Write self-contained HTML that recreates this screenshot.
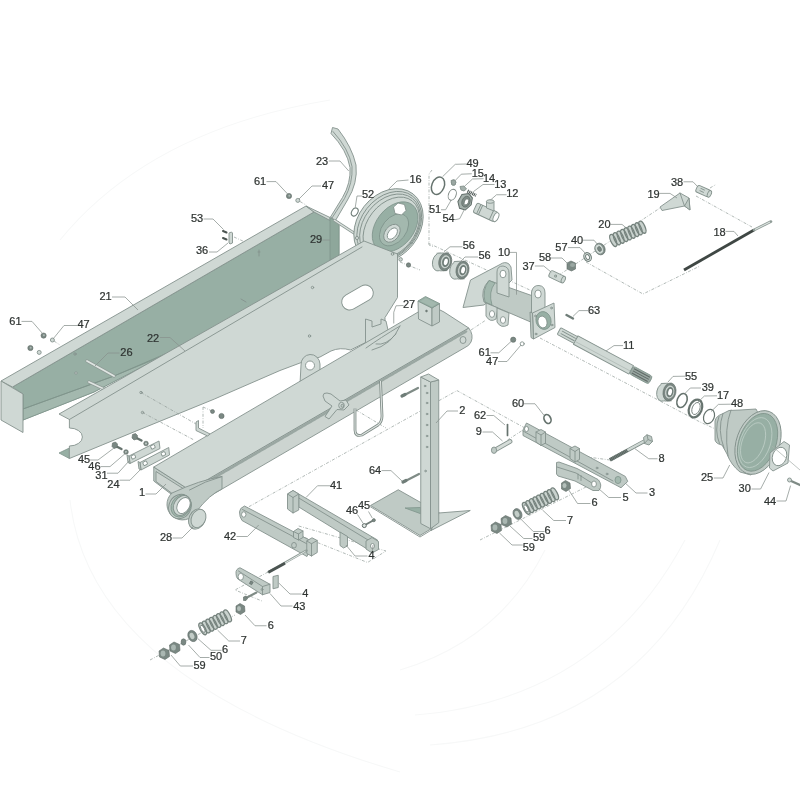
<!DOCTYPE html>
<html><head><meta charset="utf-8">
<style>
html,body{margin:0;padding:0;background:#fff;}
body{width:800px;height:800px;overflow:hidden;}
svg{display:block;filter:blur(.55px);}
.l{fill:#cfd8d4;stroke:#84928d;stroke-width:.9;stroke-linejoin:round;}
.m{fill:#bfcac5;stroke:#84928d;stroke-width:.9;stroke-linejoin:round;}
.d{fill:#97afa4;stroke:#7f948b;stroke-width:.8;stroke-linejoin:round;}
.d2{fill:#a3b8ae;stroke:#7f948b;stroke-width:.8;stroke-linejoin:round;}
.k{fill:#7a8883;stroke:#5f6b67;stroke-width:.6;}
.w{fill:#fff;stroke:#84928d;stroke-width:.9;}
.n{fill:none;stroke:#84928d;stroke-width:.9;stroke-linecap:round;}
.ld{fill:none;stroke:#88928e;stroke-width:.75;}
.dd{fill:none;stroke:#9ea8a4;stroke-width:.8;stroke-dasharray:3 1.5 .8 1.5;}
text{font-family:"Liberation Sans",sans-serif;font-size:11px;fill:#2f3432;stroke:#2f3432;stroke-width:.22px;text-anchor:middle;}
</style></head><body>
<svg width="800" height="800" viewBox="0 0 800 800">
<rect width="800" height="800" fill="#fff"/>
<g id="wm">
<g fill="none" stroke="#f7f8f8" stroke-width="1.1">
<path d="M400,670 Q500,640 545,550"/>
<path d="M415,715 Q600,700 685,540"/>
<path d="M430,745 Q640,730 720,540"/>
<path d="M70,500 Q90,680 400,772"/>
<path d="M60,240 Q150,130 330,100"/>
</g>
</g>
<g id="dash">
<g class="dd">
<path d="M432,170 L429,174 L429,245 L434,247"/>
<path d="M428,243 L532,291"/>
<path d="M400,262 L420,270"/>
<path d="M553,279 L660,208"/>
<path d="M586,262 L643,294 L700,266"/>
<path d="M696,196 L752,227"/>
<path d="M710,188 L716,184.5"/>
<path d="M540,338 L700,422 L722,432"/>
<path d="M471,330 L486,320"/>
<path d="M203,407 L203,428 M203,407 L212,411"/>
<path d="M243,510 L457,390.6 L524,427.5"/>
<path d="M356,410 L386,428"/>
<path d="M298.75,526 L386,551 L367.5,562.5 L296,534"/>
<path d="M268,572 L235,590 L262,601"/>
<path d="M150,660 L235,615"/>
<path d="M480,540 L600,480"/>
<path d="M507.5,440 L523,430"/>
<path d="M580,456 L610,460"/>
<path d="M234,237 L245,242"/>
<path d="M54,341 L60,345 M300,201.5 L306,205"/>
</g>
</g>
<g id="p21">
<!-- trough 21 -->
<polygon class="d" points="12.5,387 314,212 339,222 339,262 94,392 23,420 23,394"/>
<polygon class="d2" stroke="none" points="23,409 114,376 165,355 94,392 23,420"/>
<path class="n" style="stroke:#7f948b" d="M23,409 L114,376 L165,354"/>
<polygon class="l" points="1,381 306,206 314,212 12.5,387"/>
<polygon class="l" points="306,206 330,217.5 330,220.5 314,212"/>
<polygon class="l" points="1,381 23,394 23,432.5 1,420"/>
<polygon class="d" style="fill:#8ea79b" points="330,217.5 339,222.5 339,256 330,260"/>
<!-- rods 26 -->
<path d="M87,361 L114,376" stroke="#8f9c97" stroke-width="3.2" stroke-linecap="round"/>
<path d="M87,361 L114,376" stroke="#dfe5e2" stroke-width="1.8" stroke-linecap="round"/>
<path d="M89,382 L104,389" stroke="#8f9c97" stroke-width="3.2" stroke-linecap="round"/>
<path d="M89,382 L104,389" stroke="#dfe5e2" stroke-width="1.8" stroke-linecap="round"/>
<circle cx="75" cy="354" r="1.2" class="n"/><circle cx="76" cy="373" r="1.2" class="l"/>
<path class="n" d="M259,250 v6 M258,252 l2,0"/>
<path class="n" d="M241,299 l5,3"/>
</g>
<g id="p16">
<!-- belt 23 -->
<path class="l" d="M332.5,127.5 L338,129 Q352,147 356,165 Q358,183 347.5,200 L335.5,220.5 L330.5,217 L342.5,197.5 Q351,183 350,167.5 Q347,150 331,133.5 Z"/>
<path class="n" d="M333,131.5 Q349,149 352,166.5 Q353,183 344.5,198.5 L332,218"/>
<!-- rod to pulley -->
<path d="M334,220 L357,235" stroke="#8f9c97" stroke-width="2.8"/>
<path d="M334,220 L357,235" stroke="#dde3e0" stroke-width="1.3"/>
<!-- ring 52 -->
<ellipse class="n" cx="354.75" cy="212" rx="3" ry="4.3" transform="rotate(30 354.75 212)" style="stroke:#6f7d78;stroke-width:1.1"/>
<!-- pulley 16 -->
<g transform="translate(388.5,225.5) rotate(38)">
<ellipse class="l" cx="0" cy="0" rx="31" ry="40"/>
<ellipse class="n" cx="1" cy="0" rx="28.5" ry="38"/>
<ellipse class="n" cx="2" cy="0" rx="26.5" ry="36"/>
<ellipse class="n" cx="3.5" cy="0" rx="24" ry="34"/>
<ellipse class="d" cx="6" cy="-3" rx="19" ry="28"/>
<ellipse class="d2" cx="7" cy="0" rx="12" ry="18"/>
<ellipse class="l" cx="7.5" cy="4" rx="7" ry="10"/>
<ellipse class="w" cx="8" cy="4" rx="4" ry="6.5"/>
</g>
<polygon class="w" points="393.5,207 398,203 404.5,204.5 406,210.5 401.5,215 395,213.5"/>
<circle class="l" cx="400.6" cy="259.4" r="1.8"/>
<circle class="l" cx="357" cy="238" r="1.6"/>
</g>
<g id="p22">
<!-- side plate 22 -->
<polygon class="d" points="59,453 69.4,448 69.4,458.5"/>
<path class="l" d="M59,414 L364,241 L397.5,254 L397.5,297.5 L385,317.5 L385,330 L365.5,342.5 L350.5,350 Q340,347 331,351 L320,357 L300,363 L280,370.5 L214.5,399 L140,429.4 L69.4,458.5 L69.4,446 A13,9 0 0 0 69.4,428 L69.4,419.5 Z"/>
<path class="n" d="M69.4,419.5 L362,247"/>
<!-- slot -->
<path class="w" d="M-9,-8 L9,-8 A8,8 0 0 1 9,8 L-9,8 A8,8 0 0 1 -9,-8 Z" transform="translate(357.5,297.5) rotate(-30)"/>
<circle class="n" cx="312.5" cy="287.5" r="1.2"/><circle class="n" cx="309.5" cy="336" r="1.2"/><circle class="n" cx="392.5" cy="254" r="1.3"/>
<circle class="n" cx="141" cy="392.5" r="1.2"/><circle class="n" cx="142.5" cy="412.5" r="1.2"/>
<!-- lug -->
<path class="l" d="M300,384 L301,365 A9.5,10 0 0 1 320,364 L320,374 Z"/>
<circle class="w" cx="310" cy="365.5" r="4.5"/>
<!-- bracket at right -->
<path class="l" d="M365.5,319 L372,321 L372,327 L381,324 L381,319 L386,321 L388,330 Q380,345 370,346 L365.5,342.5 Z"/>
</g>
<g id="p1">
<!-- beam 1 -->
<polygon class="m" points="153.75,467 189.5,490 189.5,508 153.75,481"/>
<polygon class="l" style="fill:#ccd4d0" points="156,471.5 187,491 187,504.5 156,481.5"/>
<path class="m" style="fill:#ccd4d0" d="M189.5,490 L468.75,328 Q474,335 471,342 Q469,346 465,347.5 L189.5,508 Z"/>
<path class="l" d="M153.75,467 L425,308 Q436,307 444,312 L468.75,328 L189.5,490 Z"/>
<path class="n" d="M193,490 L466,331.5" style="stroke-dasharray:1.2 1;stroke-width:2.6;stroke:#9aa7a2"/>
<ellipse class="l" cx="463" cy="340" rx="3" ry="3.5"/>
<!-- spring clip 27 on top -->
<path class="n" d="M366,348 Q380,338 400,326 M372,350 Q392,345 400,326 M376,344 Q386,346 396,334"/>
<!-- lever pin -->
<g transform="translate(0,4)">
<path class="l" d="M323,392 Q323,388.5 327,389 L331,390 L340,397 L346,396 L349,401 L344,406 L337,405.5 L329,415 L325,412.5 L332,402 L325,397 Z"/>
<ellipse class="l" cx="341.5" cy="401.5" rx="2.8" ry="3.2"/>
<ellipse class="m" cx="342.3" cy="401.8" rx="1.3" ry="1.6"/>
</g>
<!-- U handle -->
<path d="M355,408.5 L355,430 Q355,437 362,435 L378,425 Q382,422 382,416 L380.5,381" fill="none" stroke="#7f8c87" stroke-width="2.8"/>
<path d="M355,408.5 L355,430 Q355,437 362,435 L378,425 Q382,422 382,416 L380.5,381" fill="none" stroke="#dde3e0" stroke-width="1.1"/>
<!-- end eye -->
<path class="m" d="M222,476.5 L222,489 Q210,494 196,512 A15.5,15.5 0 1 1 172,493 Q200,480 222,476.5 Z"/>
<path class="n" d="M189.5,490 Q205,481 222,476.5"/>
<ellipse class="m" cx="180" cy="506.5" rx="11" ry="12.5" transform="rotate(30 180 506.5)"/>
<ellipse class="d2" cx="181" cy="506" rx="9.5" ry="11.5" transform="rotate(30 181 506)"/>
<ellipse class="l" cx="182" cy="505.5" rx="8" ry="10.5" transform="rotate(30 182 505.5)"/>
<ellipse class="w" cx="183.5" cy="505.5" rx="6" ry="8.5" transform="rotate(30 183.5 505.5)"/>
<!-- cap 28 -->
<ellipse class="m" cx="197" cy="519" rx="8" ry="10.5" transform="rotate(25 197 519)"/>
<ellipse class="l" cx="198.5" cy="518.5" rx="7" ry="9.5" transform="rotate(25 198.5 518.5)"/>
<!-- box on top -->
<polygon class="l" points="418,301 432,308 432,326 418.5,319"/>
<polygon class="m" points="432,308 439.5,303.5 439.5,322 432,326"/>
<polygon class="d" points="418,301 425.5,296.5 439.5,303.5 432,308"/>
<polygon class="d2" stroke="none" points="420.5,301.2 425.7,298 437,303.6 432,306.7" style="stroke:none"/>
<circle class="k" cx="426.5" cy="311" r=".9"/>
</g>
<g id="p10">
<!-- bearings 56 -->
<defs><g id="brg">
<ellipse class="l" cx="-6.5" cy="0.3" rx="6.2" ry="9" transform="rotate(12 -6.5 0.3)"/>
<path d="M-8.3,-8.5 L-1.8,-8.8 L1.8,8.8 L-4.7,9.1 Z" fill="#cfd8d4"/>
<path class="n" d="M-8.3,-8.5 L-1.8,-8.8 M1.8,8.8 L-4.7,9.1"/>
<ellipse cx="0" cy="0" rx="6.4" ry="9.1" transform="rotate(12)" fill="#7c8a85" stroke="#5d6965" stroke-width=".6"/>
<ellipse cx="0.2" cy="0" rx="5" ry="7" transform="rotate(12)" fill="#c9d2ce" stroke="#5d6965" stroke-width=".5"/>
<ellipse cx="0.4" cy="0" rx="3.5" ry="5.2" transform="rotate(12)" fill="#6f7d78"/>
<ellipse cx="0.6" cy="0" rx="1.9" ry="3.3" transform="rotate(12)" fill="#fff"/>
</g></defs>
<use href="#brg" x="445.25" y="261.75"/>
<use href="#brg" x="462.5" y="270"/>
<!-- part 10 bracket -->
<path class="l" d="M470.5,280 L500,264.5 Q505,261 509,264 L511,267 L512,280 L500,292 L484,305 L463,307.5 Z"/>
<!-- tube -->
<path class="m" d="M489,280.5 L533,296 L533,323 L484,302 Q480,290 489,280.5 Z"/>
<path class="d2" d="M489,280.5 Q482,290 485,302 L492,305 Q488,292 495,283 Z"/>
<!-- upright lug left -->
<path class="l" d="M497,293 L497,272 Q497,266 503,266 Q509,267 509,273 L509,297 Z"/>
<ellipse class="w" cx="503" cy="274" rx="3" ry="3.8"/>
<!-- lower lugs -->
<path class="l" d="M486,303 L486,316 Q490,323 496,319 L498,308 Z"/>
<ellipse class="w" cx="492" cy="314" rx="2.6" ry="3.4"/>
<path class="l" d="M497,308 L497,322 Q501,329 508,325 L509,313 Z"/>
<ellipse class="w" cx="503" cy="320" rx="2.6" ry="3.4"/>
<!-- right upright lug -->
<path class="l" d="M531.5,318 L531.5,292 Q533,285 539,285.5 Q545,286 545,293 L545,310 Z"/>
<ellipse class="w" cx="538" cy="294" rx="3.2" ry="4"/>
<!-- flange plate -->
<polygon class="l" points="532.5,313 554,303 555,327.5 533.5,339"/>
<polygon class="m" points="532.5,313 533.5,339 531,337.5 530,312"/>
<ellipse class="d" cx="543.5" cy="320.5" rx="7.5" ry="9" transform="rotate(-15 543.5 320.5)"/>
<ellipse class="w" cx="542.5" cy="322" rx="4.5" ry="6" transform="rotate(-15 542.5 322)"/>
<circle class="n" cx="535.5" cy="316" r=".9"/><circle class="n" cx="551.5" cy="308" r=".9"/><circle class="n" cx="552" cy="325" r=".9"/><circle class="n" cx="536" cy="334" r=".9"/>
<!-- nut 61 / washer 47 -->
<circle class="k" cx="513.2" cy="339.7" r="2.6"/><circle class="n" cx="522.2" cy="343.8" r="2"/>
</g>
<g id="right">
<!-- 37 cylinder -->
<g transform="translate(556.5,276.5) rotate(25)">
<rect class="l" x="-7.5" y="-3.6" width="15" height="7.2" rx="2"/>
<ellipse class="l" cx="7.5" cy="0" rx="1.8" ry="3.6"/>
<circle class="n" cx="-1" cy="0" r="1"/>
</g>
<!-- 58 nut -->
<g transform="translate(571,266)"><path class="k" d="M-4,-3 L0,-5 L4.5,-3 L4.5,3 L0.5,5 L-4,3Z"/><ellipse cx="1.5" cy="-1" rx="2.5" ry="2" fill="#9aa7a2"/></g>
<!-- 57 ring -->
<ellipse class="l" cx="587.6" cy="257" rx="3.6" ry="4.6" transform="rotate(-25 587.6 257)" style="stroke:#6f7d78;stroke-width:1"/>
<ellipse class="w" cx="587.6" cy="257" rx="1.8" ry="2.6" transform="rotate(-25 587.6 257)" style="stroke:#6f7d78"/>
<!-- 40 washer -->
<ellipse class="k" cx="600" cy="249" rx="5" ry="6" transform="rotate(-25 600 249)"/>
<ellipse class="l" cx="599.3" cy="249" rx="4" ry="5.2" transform="rotate(-25 599.3 249)"/>
<ellipse class="k" cx="599.5" cy="249" rx="1.8" ry="2.5" transform="rotate(-25 599.5 249)"/>
<!-- spring 20 -->
<g transform="translate(611,241.5) rotate(-24.5)">
<rect x="0" y="-6.5" width="37" height="13" rx="3" fill="#c9d2ce" stroke="none"/>
<g fill="none" stroke="#76837e" stroke-width="1.3">
<ellipse cx="2.5" cy="0" rx="2.6" ry="6.5"/><ellipse cx="6.5" cy="0" rx="2.6" ry="6.5"/><ellipse cx="10.5" cy="0" rx="2.6" ry="6.5"/><ellipse cx="14.5" cy="0" rx="2.6" ry="6.5"/><ellipse cx="18.5" cy="0" rx="2.6" ry="6.5"/><ellipse cx="22.5" cy="0" rx="2.6" ry="6.5"/><ellipse cx="26.5" cy="0" rx="2.6" ry="6.5"/><ellipse cx="30.5" cy="0" rx="2.6" ry="6.5"/><ellipse cx="34.5" cy="0" rx="2.6" ry="6.5"/>
</g></g>
<!-- 19 wedge -->
<polygon class="l" points="660,207 680,193 689,198 690,210 684.5,206 662,210.5"/>
<polygon class="m" points="684.5,206 689,198 690,210"/>
<path class="n" d="M684.5,206 L680,193"/>
<!-- 38 cylinder -->
<g transform="translate(703,191) rotate(24)">
<rect class="l" x="-7" y="-3.6" width="14" height="7.2" rx="2"/>
<ellipse class="l" cx="7" cy="0" rx="1.8" ry="3.6"/>
<path class="n" d="M-3,-1.5 h4 M-3,1 h4"/>
</g>
<!-- rod 18 -->
<path d="M684,270 L754,230" stroke="#3f4744" stroke-width="2.8"/>
<path d="M754,230 L771,221.5" stroke="#8f9c97" stroke-width="2.6" stroke-linecap="round"/>
<path d="M755,229.5 L770,222" stroke="#dfe5e2" stroke-width="1.1"/>
<!-- 63 pin -->
<path d="M566.5,315 L573,318.5" stroke="#6f7d78" stroke-width="2.4" stroke-linecap="round"/>
<!-- shaft 11 -->
<g transform="translate(559,331) rotate(28.3)">
<rect class="l" x="0" y="-3.8" width="20" height="7.6" rx="1"/>
<path class="n" d="M3,-1.4 H18 M3,1.4 H18"/>
<rect class="l" x="19" y="-4.8" width="63" height="9.6"/>
<path class="n" d="M19,1.5 H82" style="stroke:#b4beba"/>
<rect class="d" x="82" y="-4.4" width="22" height="8.8" rx="2.5" style="fill:#9aa7a2"/>
<path d="M84,-2.4 H102 M84,0 H102 M84,2.4 H102" stroke="#5f6b67" stroke-width="1"/>
</g>
<!-- bearing 55 -->
<use href="#brg" x="669.5" y="392"/>
<!-- rings 39 17 48 -->
<g fill="none" stroke="#66736e">
<ellipse cx="682" cy="400.5" rx="4.8" ry="7.3" transform="rotate(22 682 400.5)" stroke-width="1.6"/>
<ellipse cx="695.5" cy="408.5" rx="6.3" ry="9.3" transform="rotate(22 695.5 408.5)" stroke-width="2.2"/>
<ellipse cx="696" cy="408.5" rx="3.8" ry="6.3" transform="rotate(22 696 408.5)" stroke-width=".8"/>
<ellipse cx="709" cy="416.5" rx="5.2" ry="7.4" transform="rotate(22 709 416.5)" stroke-width="1.2"/>
</g>
<!-- bell housing 25 -->
<path class="m" d="M715,421 Q716,416 722,414 L729,410.5 L740,410 L756,409 L772,440 L751,475 L740,472 Q731,465 727,454 L722,445 Q716,444 715,440 Z"/>
<path class="n" d="M719,416.5 Q714,430 719.5,443.5 M723,413.5 Q717,430 724,448 M731,410 Q724,428 728,456"/>
<g transform="translate(758,442.5) rotate(20)">
<ellipse class="m" cx="0" cy="0" rx="21.5" ry="33"/>
<ellipse class="d" cx="-0.5" cy="0" rx="18.5" ry="30"/>
<ellipse class="n" cx="-2.5" cy="1" rx="15" ry="26" style="stroke:#b9cac2"/>
<ellipse class="n" cx="-4.5" cy="2" rx="11" ry="21" style="stroke:#b9cac2"/>
</g>
<!-- gasket 30 -->
<path class="l" d="M770,453 L784,441.5 L789.5,445 L788,463 L773,471 L769.5,468 Z"/>
<ellipse class="w" cx="779.5" cy="456.5" rx="7" ry="9.5" transform="rotate(20 779.5 456.5)"/>
<path class="ld" d="M772,446 L800,470" style="stroke:#a9b1ae"/>
<!-- 44 screw -->
<path d="M790,480.5 L800,485" stroke="#7f8b86" stroke-width="2.4" stroke-linecap="round"/>
<circle class="l" cx="789.5" cy="480" r="2"/>
</g>
<g id="low">
<!-- stand 2: base plate -->
<polygon class="m" points="370.5,505.5 398.25,489.75 448.5,518.25 420,535.5"/>
<path class="n" d="M370.5,506.8 L420,537 L448.5,519.6"/>
<polygon class="d" points="405,508 420.75,507.5 420.75,513.75"/>
<polygon class="l" points="438.75,513 470.25,510.5 431,530.5"/>
<!-- post -->
<polygon class="l" points="420.75,377 430.5,382 430.5,528.75 420.75,523.5"/>
<polygon class="m" points="430.5,382 438.75,380 438.75,522.75 430.5,528.75"/>
<polygon class="l" points="420.75,377 428.5,374 438.75,380 430.5,382"/>
<g class="n"><circle cx="425" cy="386" r=".8"/><circle cx="427" cy="393" r=".8"/><circle cx="427" cy="403" r=".8"/><circle cx="427" cy="414" r=".8"/><circle cx="427" cy="425" r=".8"/><circle cx="427" cy="436" r=".8"/><circle cx="427" cy="447" r=".8"/><circle cx="425.5" cy="471" r=".8"/></g>
<!-- bolts 64 -->
<g id="b64"><path d="M403.5,395.5 L418,388" stroke="#7f8b86" stroke-width="2.2" stroke-linecap="round"/><path d="M402,396 L405,394.5" stroke="#6f7d78" stroke-width="3.2" stroke-linecap="round"/></g>
<use href="#b64" x="1" y="86"/>
<!-- arm 41 -->
<polygon class="m" points="298.75,494 377.5,540 377.5,549 372,552 298.75,507"/>
<path class="n" d="M298.75,498 L373,543"/>
<polygon class="m" points="287.5,494 293,490.5 298.75,494 298.75,510 293,513 287.5,509"/>
<polygon class="m" points="287.5,494 293,490.5 298.75,494 293,497.5"/>
<path class="n" d="M293,497.5 V513"/>
<polygon class="m" points="340,532 347.5,536.5 347.5,546 343.5,548 340,545.5"/>
<polygon class="m" points="366,541 372,537.5 378.5,541.5 378.5,549.5 372,553 366,549"/>
<ellipse class="w" cx="372.5" cy="546" rx="2" ry="2.5"/>
<!-- bolt 45/46 near 41 -->
<path d="M365,525 L374,520" stroke="#6f7b77" stroke-width="2" stroke-linecap="round"/><circle cx="364.3" cy="525.6" r="2" fill="#dfe5e2" stroke="#5f6b67" stroke-width="1"/><circle class="k" cx="373.8" cy="520.2" r="1.6"/>
<!-- arm 42 -->
<path class="m" d="M239.5,512 Q239.5,508 244.5,506 L313,542 L307,556.5 L242,520.5 Q239.5,517 239.5,512Z"/>
<path class="n" d="M242.5,509.5 L309,545"/>
<ellipse class="w" cx="243.75" cy="514.5" rx="2.2" ry="2.7"/>
<polygon class="m" points="293.5,531.5 298,528.5 303,531 303,537.5 298.5,540 293.5,537.5"/>
<path class="n" d="M293.5,531.5 L298.5,534 L303,531 M298.5,534 V540"/>
<polygon class="m" points="306.75,541 312,537.75 317.25,540.5 317.25,552.5 311.5,556 306.75,553.5"/>
<path class="n" d="M306.75,541 L311.5,543.75 L317.25,540.5 M311.5,543.75 V556"/>
<ellipse class="m" cx="294" cy="545.25" rx="2.4" ry="2.8"/>
<!-- rod from 42 -->
<path d="M268.5,572 L306.5,550.5" stroke="#8f9c97" stroke-width="2.4" stroke-linecap="round"/>
<path d="M285,563 L305.5,551.2" stroke="#dfe5e2" stroke-width="1"/>
<path d="M268.5,572.25 L285,563.25" stroke="#4b5451" stroke-width="2.8"/>
<!-- 43 plate -->
<path class="m" d="M236,573.5 Q235.5,569 240,567.75 L270,584.25 L270,592.5 L262.5,594.75 L237.75,579 Q236,577 236,573.5Z"/>
<path class="n" d="M262.5,594.75 V586.5 L238.5,571 M262.5,586.5 L270,584.25"/>
<ellipse class="w" cx="240.75" cy="576.75" rx="2.7" ry="3.4"/>
<rect class="k" x="250" y="581.3" width="2.6" height="3" transform="rotate(30 251.25 582.75)"/><circle class="n" cx="262" cy="589.5" r=".9"/>
<!-- key 4 -->
<polygon class="m" points="273,576.5 278.25,575.25 278.25,587.5 273,588.75"/>
<!-- bolt under 43 -->
<path d="M246,598 L256.5,592.5" stroke="#7f8b86" stroke-width="2" stroke-linecap="round"/><path class="k" d="M243.5,597 L246,596 L247.5,598.5 L246,600.5 L243.5,600.5Z"/>
<!-- nut 6 (lower-left) -->
<g id="n6"><path class="k" d="M236,606 L240,603.5 L244.5,606 L245,611.5 L240.5,614.5 L236,612Z"/><ellipse cx="239" cy="608.5" rx="2" ry="2.6" fill="#b3bfba"/></g>
<!-- spring 7 lower-left -->
<g id="sp7" transform="translate(200.5,630) rotate(-27.5)">
<rect x="0" y="-6.5" width="33" height="13" rx="3" fill="#c9d2ce"/>
<g fill="none" stroke="#76837e" stroke-width="1.25">
<ellipse cx="2.5" cy="0" rx="2.6" ry="6.5"/><ellipse cx="6.5" cy="0" rx="2.6" ry="6.5"/><ellipse cx="10.5" cy="0" rx="2.6" ry="6.5"/><ellipse cx="14.5" cy="0" rx="2.6" ry="6.5"/><ellipse cx="18.5" cy="0" rx="2.6" ry="6.5"/><ellipse cx="22.5" cy="0" rx="2.6" ry="6.5"/><ellipse cx="26.5" cy="0" rx="2.6" ry="6.5"/><ellipse cx="30.5" cy="0" rx="2.6" ry="6.5"/>
</g>
<ellipse cx="2.5" cy="0" rx="1.6" ry="4" fill="#fff" stroke="#6f7d78" stroke-width=".8"/>
</g>
<!-- washer 6, 50, nuts 59 (lower-left) -->
<ellipse class="k" cx="192.5" cy="636" rx="4.4" ry="5.8" transform="rotate(-25 192.5 636)"/><ellipse cx="192" cy="636" rx="2.2" ry="3.2" transform="rotate(-25 192 636)" fill="#c3cdc8"/>
<ellipse class="k" cx="183.5" cy="642" rx="2.4" ry="3.2"/>
<g id="n59"><path class="k" d="M169.5,645 L174,642 L179.5,644.5 L180,650.5 L175.5,653.5 L170,651Z"/><ellipse cx="173.5" cy="647.5" rx="2.4" ry="3" fill="#aab7b2"/></g>
<use href="#n59" x="-10.5" y="6"/>
<!-- arm 3 -->
<polygon class="m" points="523,430 526.5,423 625.3,476.4 627.75,481.4 621,487.75 523,435.5"/>
<path class="n" d="M523,431 L613,481"/>
<ellipse class="w" cx="526.5" cy="429" rx="2" ry="2.6"/>
<polygon class="m" points="536,432 541,429.5 545.5,432 545.5,443 541,445.5 536,442"/>
<path class="n" d="M541,435 V445.5 M536,432 L541,435 L545.5,432"/>
<polygon class="m" points="570,448.5 575,446 579.5,448.5 579.5,459.5 575,462 570,458.5"/>
<path class="n" d="M575,451.5 V462 M570,448.5 L575,451.5 L579.5,448.5"/>
<ellipse class="d2" cx="618" cy="480" rx="3" ry="3.6"/>
<circle class="n" cx="597" cy="468" r=".9"/><circle class="n" cx="607" cy="474" r=".9"/>
<!-- arm 5 -->
<path class="m" d="M556.5,462.5 L559,462 L577,468.5 L598,479.5 Q603,485 599,490.5 L593,490.5 L575,481 L558,476 L556.5,474 Z"/>
<path class="n" d="M557,467 L576,473 L595,485"/>
<ellipse class="w" cx="594" cy="484" rx="2.4" ry="3"/>
<path class="n" d="M578,474 v5 M581,475.5 v5"/>
<!-- bolt 8 -->
<path d="M610,459.8 L645,440.8" stroke="#7a8883" stroke-width="3.8"/>
<path d="M627,450.5 L645,440.8" stroke="#cfd8d4" stroke-width="2.2"/>
<path d="M610,459.8 L628,450" stroke="#59635f" stroke-width="3.4" stroke-dasharray="1 .7"/>
<path class="m" d="M643.5,437.5 L647,434.8 L651.5,436.5 L652.5,441.5 L649,445 L644.5,443.5Z"/>
<path class="n" d="M647,434.8 L648,439.5 L652.5,441.5 M648,439.5 L644.5,443.5"/>
<!-- ring 60 -->
<ellipse cx="547.5" cy="419" rx="3.3" ry="4.6" transform="rotate(-25 547.5 419)" fill="none" stroke="#66736e" stroke-width="1.7"/>
<!-- pin 62 -->
<path d="M507.5,424.5 V435.5" stroke="#66736e" stroke-width="1.7" stroke-linecap="round"/>
<!-- bolt 9 -->
<path d="M495,450 L510,441.5" stroke="#84928d" stroke-width="4.8" stroke-linecap="round"/><path d="M496,449.5 L510,441.5" stroke="#d5dcd8" stroke-width="3" stroke-linecap="round"/>
<ellipse class="m" cx="494" cy="450.2" rx="2.6" ry="3.2"/>
<!-- nut 6 right -->
<use href="#n6" x="325.5" y="-123"/>
<!-- spring 7 right -->
<g transform="translate(524,509.5) rotate(-27)">
<rect x="0" y="-6.5" width="37" height="13" rx="3" fill="#c9d2ce"/>
<g fill="none" stroke="#76837e" stroke-width="1.25">
<ellipse cx="2.5" cy="0" rx="2.6" ry="6.5"/><ellipse cx="6.5" cy="0" rx="2.6" ry="6.5"/><ellipse cx="10.5" cy="0" rx="2.6" ry="6.5"/><ellipse cx="14.5" cy="0" rx="2.6" ry="6.5"/><ellipse cx="18.5" cy="0" rx="2.6" ry="6.5"/><ellipse cx="22.5" cy="0" rx="2.6" ry="6.5"/><ellipse cx="26.5" cy="0" rx="2.6" ry="6.5"/><ellipse cx="30.5" cy="0" rx="2.6" ry="6.5"/><ellipse cx="34.5" cy="0" rx="2.6" ry="6.5"/>
</g>
<ellipse cx="2.5" cy="0" rx="1.6" ry="4" fill="#fff" stroke="#6f7d78" stroke-width=".8"/>
</g>
<!-- washer 6, nuts 59 right -->
<ellipse class="k" cx="517.5" cy="514" rx="4.2" ry="5.6" transform="rotate(-25 517.5 514)"/><ellipse cx="517" cy="514" rx="2.2" ry="3.2" transform="rotate(-25 517 514)" fill="#c3cdc8"/>
<use href="#n59" x="331.5" y="-126.5"/>
<use href="#n59" x="321.5" y="-120"/>
</g>
<g id="small">
<!-- nuts 61 / washers 47 (left) -->
<defs><g id="nw"><circle class="k" cx="0" cy="0" r="2.6"/><circle cx="0.3" cy="-0.3" r="1" fill="#aab7b2"/><circle class="l" cx="8.8" cy="4.4" r="2"/></g></defs>
<use href="#nw" x="43.6" y="335.6"/>
<use href="#nw" x="30.4" y="348"/>
<use href="#nw" x="289" y="196"/>
<!-- nuts near clip -->
<circle class="k" cx="212.5" cy="411.5" r="2"/><circle class="k" cx="221.5" cy="416" r="2.6"/>
<!-- clip -->
<path class="l" d="M196,422 L198.5,420.5 L198.5,428 L210,434 L207.5,436 L196,430.5 Z"/>
<!-- 53 screws & 36 plate -->
<path d="M223,231 L226.5,232.5 M223,238 L226.5,239.5" stroke="#4b5451" stroke-width="2" stroke-linecap="round"/>
<path class="l" d="M229,233 L231.5,232 L232.5,233 L232.5,243 L230,244 L229,243Z"/>
<!-- plates 31 / 24 -->
<polygon class="l" points="129,456 159,441 160,448.5 130,463.5"/>
<polygon class="m" points="129,456 130,463.5 128,462.5 127,455"/>
<rect class="w" x="131.5" y="455" width="4" height="3.6" rx="1" transform="rotate(-27 133.5 457)"/><rect class="w" x="151" y="445" width="4" height="3.6" rx="1" transform="rotate(-27 153 447)"/>
<polygon class="l" points="140,462.5 168.75,447.5 169.5,455 141,470"/>
<polygon class="m" points="140,462.5 141,470 139,469 138,461.5"/>
<rect class="w" x="143" y="461.5" width="4" height="3.6" rx="1" transform="rotate(-27 145 463)"/><rect class="w" x="161.5" y="452" width="4" height="3.6" rx="1" transform="rotate(-27 163.5 454)"/>
<!-- bolts 45 / washers 46 -->
<defs><g id="b45"><path d="M0,0 L6,3" stroke="#66736e" stroke-width="2.4" stroke-linecap="round"/><path class="k" d="M-3,-3 L0,-4 L2,-2 L1.5,1.5 L-1.5,2.5 L-3.5,0.5Z"/><circle class="k" cx="10.5" cy="6" r="2.3"/><circle cx="10.5" cy="6" r="1" fill="#c3cdc8"/></g></defs>
<use href="#b45" x="115.5" y="446"/>
<use href="#b45" x="135.5" y="437.5"/>
<!-- cluster 49,51,54,15,14,13,12 -->
<ellipse cx="438" cy="185.75" rx="6.2" ry="9" transform="rotate(22 438 185.75)" fill="none" stroke="#66736e" stroke-width="1.5"/>
<ellipse cx="452.25" cy="194.75" rx="3.8" ry="5.6" transform="rotate(22 452.25 194.75)" fill="none" stroke="#7d8783" stroke-width="1"/>
<g transform="translate(465.5,201.5) rotate(22)">
<path d="M-6,-5 L0,-8.5 L5,-6 L6.5,1 L3,8 L-3,8.5 L-7,3Z" fill="#a5b1ac" stroke="#5f6b67" stroke-width="1"/>
<ellipse cx="0.5" cy="0" rx="4" ry="5.6" fill="#7f8c87" stroke="#59635f" stroke-width=".6"/>
<ellipse cx="1" cy="0" rx="2" ry="3.2" fill="#fff" stroke="#59635f" stroke-width=".6"/>
</g>
<ellipse class="m" cx="453.5" cy="182.5" rx="2.2" ry="2.8" style="fill:#9aa7a2"/><path class="m" style="fill:#9aa7a2" d="M451,180.5 L454.5,180 L456,182 L455,185 L452,185Z"/>
<path class="m" style="fill:#a5b1ac" d="M460,186.5 L464,186 L466.5,189 L464,191 L461,190Z"/>
<path d="M467.5,191 L476,195.5" stroke="#4f5956" stroke-width="3.2" stroke-dasharray="1.1 .7"/>
<!-- 12 T fitting -->
<g transform="translate(486,212.5) rotate(25)">
<rect class="l" x="-12" y="-5.2" width="23" height="10.4" rx="2"/>
<path class="n" d="M-8,-5 V5 M-6,-5 V5 M6,-5 V5"/>
<ellipse class="w" cx="11" cy="0" rx="2.4" ry="4.8"/>
</g>
<path class="l" d="M486.5,208 L486.5,201.5 Q490,198.5 494,201.5 L494,211 Z"/>
<ellipse class="l" cx="490.2" cy="201.5" rx="3.8" ry="1.8"/>
<!-- small nut under pulley -->
<circle class="k" cx="408.5" cy="265" r="2.2"/>
</g>
<g id="dash2">
<g class="dd" style="stroke:#97a19d">
<path d="M141,392.5 L196,424"/>
<path d="M142.5,412.5 L194,440"/>
</g>
</g>
<g id="leaders">
<path class="ld" d="M21.5,321.4 L32,321.4 L43,334"/>
<path class="ld" d="M77,325.5 L64,325.5 L53,339"/>
<path class="ld" d="M112,297 L125,297 L138,310"/>
<path class="ld" d="M119.5,353 L108,353 L95,366"/>
<path class="ld" d="M160,337.5 L170,337.5 L185,351"/>
<path class="ld" d="M266.5,181.6 L276,181.6 L288,194.4"/>
<path class="ld" d="M321,186 L312,186 L299,199"/>
<path class="ld" d="M203.5,219 L213,219 L223.6,229.6"/>
<path class="ld" d="M209,252 L217,252 L228,243"/>
<path class="ld" d="M322.5,240 L330,240"/>
<path class="ld" d="M328.75,161 L340,161 L348.75,171"/>
<path class="ld" d="M362,196 L357,196 L355.3,207"/>
<path class="ld" d="M408.5,180 L397,181 L388.4,189.5"/>
<path class="ld" d="M441,209.75 L445.6,209.75 L451.25,200"/>
<path class="ld" d="M455,219.7 L459.7,218.75 L464.4,209.4"/>
<path class="ld" d="M466.5,164 L455.25,164.3 L442.5,176.75"/>
<path class="ld" d="M471.75,173.75 L461.25,174.2 L455.25,180.5"/>
<path class="ld" d="M483.5,178.7 L472.5,179 L464.25,186.5"/>
<path class="ld" d="M494.5,184.5 L483,184.5 L473.25,191.75"/>
<path class="ld" d="M506.5,194.75 L496.5,194.75 L490.5,200"/>
<path class="ld" d="M462.5,246.8 L450,246.8 L444,251.75"/>
<path class="ld" d="M478,257 L465,257 L461,261"/>
<path class="ld" d="M509.5,252.4 L516.5,252.4 L516.5,294.7"/>
<path class="ld" d="M551,258 L562,258 L568,264"/>
<path class="ld" d="M568,247.6 L580,247.6 L586,254"/>
<path class="ld" d="M583,240.2 L594,240.2 L598,245"/>
<path class="ld" d="M610.5,224.4 L622,224.4 L630,231"/>
<path class="ld" d="M534.8,266 L543.75,266 L551.25,272.2"/>
<path class="ld" d="M588,310.6 L579,310.6 L573,316.4"/>
<path class="ld" d="M683.5,181.8 L693,181.8 L698,187"/>
<path class="ld" d="M659.5,193.4 L670,193.4 L677,198"/>
<path class="ld" d="M725.5,231.4 L734,231.4 L738,236"/>
<path class="ld" d="M623,345.6 L614,345.6 L606,351"/>
<path class="ld" d="M685,376.2 L673,376.4 L668,382"/>
<path class="ld" d="M701,388 L690.3,388 L684.7,393.75"/>
<path class="ld" d="M717,395.8 L704.4,396 L697.8,402.2"/>
<path class="ld" d="M730.8,404.2 L718.4,404.4 L711,411.6"/>
<path class="ld" d="M713.75,478 L723,478 L729.7,465"/>
<path class="ld" d="M751.5,489 L760.6,489 L769,472.5"/>
<path class="ld" d="M776.5,501 L786,501 L790.6,485.6"/>
<path class="ld" d="M657.5,458.75 L648.75,458.75 L635,448.75"/>
<path class="ld" d="M524,403.75 L535,403.75 L543.75,415"/>
<path class="ld" d="M486.5,415.5 L493.75,415.5 L505,425"/>
<path class="ld" d="M482.5,432 L492.5,432 L502.5,441"/>
<path class="ld" d="M647.5,493 L636,493 L626,483.75"/>
<path class="ld" d="M621,497.5 L608.75,497.5 L598.75,488.75"/>
<path class="ld" d="M590.5,503.5 L577.5,503.5 L568.75,490"/>
<path class="ld" d="M566,520.5 L553.75,520.5 L542.5,510"/>
<path class="ld" d="M544.5,531.5 L533.25,531.5 L520.5,518.75"/>
<path class="ld" d="M532.5,538.5 L523.75,538.5 L510,526"/>
<path class="ld" d="M522.75,545 L512,545 L499.5,533"/>
<path class="ld" d="M458,411 L447,411 L436,423"/>
<path class="ld" d="M381.5,470.6 L391,470.6 L402,481"/>
<path class="ld" d="M330,485.75 L317.5,485.75 L306,497.5"/>
<path class="ld" d="M236.5,536.5 L247.5,536.5 L258.75,525"/>
<path class="ld" d="M357.5,514.5 L363.25,523.5"/>
<path class="ld" d="M368.5,511.5 L372.25,518"/>
<path class="ld" d="M367.5,556 L355,556 L346,545"/>
<path class="ld" d="M301.5,594 L290,594 L278.75,583"/>
<path class="ld" d="M292.5,606 L281,606 L270,593.5"/>
<path class="ld" d="M266.5,625.75 L255,625.75 L245,615"/>
<path class="ld" d="M240,641 L228.75,641 L217.5,630"/>
<path class="ld" d="M221.5,650.3 L211,650.3 L198,638.75"/>
<path class="ld" d="M209.5,657.5 L200,657.5 L188.5,645"/>
<path class="ld" d="M193,666 L180.3,666 L171,655"/>
<path class="ld" d="M90,460 L98,460 L114,448"/>
<path class="ld" d="M100.5,466.6 L110,466.6 L127,452"/>
<path class="ld" d="M107,473.2 L118,473.2 L129,461"/>
<path class="ld" d="M119.5,480.2 L130,480.2 L141,469"/>
<path class="ld" d="M145.5,494 L156,494 L166,484"/>
<path class="ld" d="M172.5,538 L182,538 L193,527"/>
<path class="ld" d="M403.5,305.5 L396,305.8 L393.75,312.25 L393.75,323.5"/>
<path class="ld" d="M490.5,352.8 L498.75,352.8 L512,340.6"/>
<path class="ld" d="M498,361.5 L507,361.5 L521,345"/>
<path class="ld" d="M372.25,551.5 L373,545"/>
</g>
<g id="labels">
<text x="15.4" y="324.5">61</text>
<text x="83.6" y="328.3">47</text>
<text x="105.6" y="300.3">21</text>
<text x="126.4" y="355.5">26</text>
<text x="153" y="341.9">22</text>
<text x="260" y="184.9">61</text>
<text x="328" y="188.9">47</text>
<text x="197" y="221.9">53</text>
<text x="202" y="254.3">36</text>
<text x="316" y="242.9">29</text>
<text x="322" y="164.9">23</text>
<text x="368" y="197.9">52</text>
<text x="415.6" y="183.3">16</text>
<text x="435" y="212.9">51</text>
<text x="448.5" y="221.9">54</text>
<text x="472.5" y="167.2">49</text>
<text x="477.75" y="176.9">15</text>
<text x="489" y="182.2">14</text>
<text x="500.25" y="188.2">13</text>
<text x="512.25" y="197.2">12</text>
<text x="468.75" y="248.9">56</text>
<text x="484.5" y="259.4">56</text>
<text x="504" y="256.4">10</text>
<text x="545" y="260.9">58</text>
<text x="561.4" y="251.3">57</text>
<text x="577" y="243.9">40</text>
<text x="604.4" y="227.9">20</text>
<text x="528.5" y="269.5">37</text>
<text x="594" y="313.9">63</text>
<text x="677" y="185.5">38</text>
<text x="653.6" y="197.5">19</text>
<text x="719.6" y="235.5">18</text>
<text x="628.6" y="348.9">11</text>
<text x="691" y="379.5">55</text>
<text x="707.75" y="390.9">39</text>
<text x="723" y="398.6">17</text>
<text x="737" y="406.6">48</text>
<text x="707" y="480.9">25</text>
<text x="744.7" y="492.3">30</text>
<text x="770" y="504.5">44</text>
<text x="661.6" y="462.3">8</text>
<text x="518" y="406.9">60</text>
<text x="480" y="418.9">62</text>
<text x="478.75" y="434.9">9</text>
<text x="652" y="496.4">3</text>
<text x="625.5" y="500.9">5</text>
<text x="594.5" y="506.4">6</text>
<text x="570" y="523.9">7</text>
<text x="547.5" y="533.9">6</text>
<text x="539" y="541.4">59</text>
<text x="528.75" y="550.9">59</text>
<text x="462.4" y="413.9">2</text>
<text x="375" y="473.9">64</text>
<text x="336" y="488.9">41</text>
<text x="230" y="539.9">42</text>
<text x="352" y="513.6">46</text>
<text x="364" y="509.1">45</text>
<text x="371.5" y="559.4">4</text>
<text x="305.25" y="597.1">4</text>
<text x="299.25" y="609.6">43</text>
<text x="270.75" y="628.9">6</text>
<text x="243.75" y="644.4">7</text>
<text x="225" y="652.7">6</text>
<text x="216" y="660.4">50</text>
<text x="199.6" y="668.9">59</text>
<text x="84" y="462.9">45</text>
<text x="94.4" y="470.3">46</text>
<text x="101.4" y="479.3">31</text>
<text x="113.4" y="487.5">24</text>
<text x="142" y="496.3">1</text>
<text x="166" y="540.9">28</text>
<text x="409" y="307.9">27</text>
<text x="484.7" y="355.9">61</text>
<text x="492.2" y="364.9">47</text>
</g>
</svg>
</body></html>
